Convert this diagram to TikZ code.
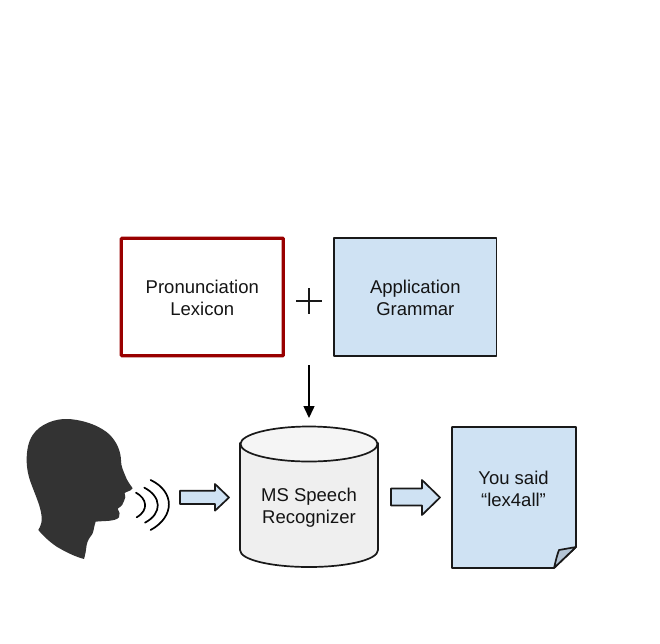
\documentclass[tikz,border=0pt]{standalone}
\usepackage{fontspec}
\setmainfont{Liberation Sans}
\usetikzlibrary{arrows.meta,calc}
\definecolor{paleblue}{HTML}{CFE2F3}
\definecolor{darkred}{HTML}{990000}
\definecolor{headgray}{HTML}{333333}
\definecolor{drumgray}{HTML}{EFEFEF}
\definecolor{drumtop}{HTML}{F5F5F5}
\definecolor{foldgray}{HTML}{B4C4D4}
\tikzset{
  lbl/.style={font=\fontsize{18.5}{22}\selectfont,align=center,text=black!92,inner sep=0pt},
  outlined/.style={draw=black!90,line width=1.7pt,line join=round},
  wave/.style={draw=black,line width=1.7pt,line cap=round},
  flow/.style={-{Triangle[length=12pt,width=11pt]},line width=1.5pt,black}
}
\begin{document}
\begin{tikzpicture}[x=1pt,y=-1pt]
\useasboundingbox (0,0) rectangle (660,643);
% boxes
\node[draw=darkred,line width=3.2pt,minimum width=162pt,minimum height=117.5pt,inner sep=0pt,outer sep=0pt,rounded corners=0.8pt] (lex) at (202.3,297) {};
\node[outlined,fill=paleblue,minimum width=162.4pt,minimum height=117.5pt,inner sep=0pt,outer sep=0pt] (gram) at (415.3,297) {};
\node[lbl] at ([yshift=-0.7pt]lex.center) {Pronunciation\\Lexicon};
\node[lbl] at ([yshift=-0.7pt]gram.center) {Application\\Grammar};
% plus
\draw[line width=1.3pt,black!90] (296,301) -- (322,301) (309,288) -- (309,314);
% drum
\coordinate (flowstart) at (309,365);
\coordinate (flowend) at (309,418);
\draw[outlined,fill=drumgray] (240,443) -- (240,550)
  .. controls (240,560) and (272,567) .. (309,567)
  .. controls (346,567) and (378,560) .. (378,550) -- (378,443) -- cycle;
\draw[outlined,fill=drumtop] (309,444) ellipse [x radius=68.5, y radius=17.5];
\node[lbl] (drum) at (309,507.7) {MS Speech\\Recognizer};
\draw[flow] (flowstart) -- (flowend);
% document
\draw[outlined,fill=paleblue] (452,427) -- (576,427) -- (576,547) -- (554,568) -- (452,568) -- cycle;
\draw[outlined,fill=foldgray] (554,568) .. controls (556,560) and (557,555) .. (559,550) -- (576,547) -- cycle;
\node[lbl] (doc) at (513.5,488.7) {You said\\“lex4all”};
% block arrows
\draw[outlined,fill=paleblue] (180,490.7) -- (215,490.7) -- (215,484) -- (229,497.5) -- (215,510.7) -- (215,504) -- (180,504) -- cycle;
\draw[outlined,fill=paleblue] (391,488.5) -- (422,488.5) -- (422,480) -- (440,497.5) -- (422,515) -- (422,505.5) -- (391,505.5) -- cycle;
% head
\begin{scope}[shift={(10,400)},x=0.3333pt,y=-0.3333pt]
\fill[headgray] (175,57) .. controls (225,60) and (275,80) .. (300,105)
  .. controls (322,128) and (332,155) .. (333,180)
  .. controls (333,200) and (340,212) .. (345,225)
  .. controls (352,245) and (362,255) .. (368,265)
  .. controls (362,274) and (350,274) .. (344,279)
  .. controls (348,288) and (346,296) .. (342,303)
  .. controls (340,312) and (336,318) .. (323,326)
  .. controls (328,335) and (332,344) .. (327,352)
  .. controls (315,365) and (285,362) .. (257,365)
  .. controls (252,378) and (252,392) .. (247,402)
  .. controls (238,415) and (233,420) .. (230,435)
  .. controls (228,450) and (226,465) .. (222,477)
  .. controls (195,470) and (165,455) .. (140,440)
  .. controls (118,425) and (100,408) .. (85,390)
  .. controls (92,378) and (97,365) .. (95,350)
  .. controls (92,320) and (78,290) .. (65,255)
  .. controls (55,230) and (50,205) .. (50,180)
  .. controls (50,150) and (55,125) .. (68,105)
  .. controls (90,72) and (135,55) .. (175,57) -- cycle;
\draw[wave] (378,278) .. controls (410,295) and (418,330) .. (380,352);
\draw[wave] (403,263) .. controls (455,290) and (458,340) .. (405,368);
\draw[wave] (422,240) .. controls (495,275) and (495,350) .. (422,390);
\end{scope}
\end{tikzpicture}
\end{document}
